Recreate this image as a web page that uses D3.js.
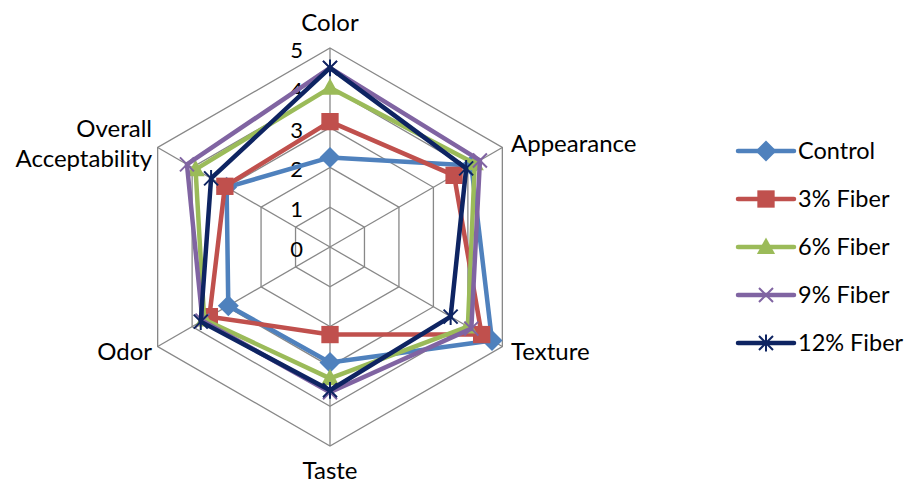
<!DOCTYPE html>
<html>
<head>
<meta charset="utf-8">
<script src="https://cdn.jsdelivr.net/npm/d3@7"></script>
<style>
  html, body { margin: 0; padding: 0; background: #ffffff; }
  svg { display: block; font-family: Lato, "Open Sans", sans-serif; }
</style>
</head>
<body>
<svg id="chart" width="908" height="486"></svg>
<script>
// Sensory attributes (radar axes, clockwise from the top)
const attributes = ["Color", "Appearance", "Texture", "Taste", "Odor", "Overall Acceptability"];

// Mean sensory scores per formulation
const control  = [2.25, 4.10, 4.70, 2.90, 2.95, 3.00];
const fiber3   = [3.15, 3.60, 4.40, 2.20, 3.50, 3.05];
const fiber6   = [4.00, 4.20, 4.00, 3.30, 3.65, 3.90];
const fiber9   = [4.50, 4.35, 4.10, 3.65, 3.70, 4.15];
const fiber12  = [4.50, 3.95, 3.50, 3.60, 3.75, 3.45];

const seriesNames = ["Control", "3% Fiber", "6% Fiber", "9% Fiber", "12% Fiber"];
const radialTicks = [0, 1, 2, 3, 4, 5];

const seriesColors = ["#4F81BD", "#C0504D", "#9BBB59", "#8064A2", "#0E2462"];
const seriesValues = [control, fiber3, fiber6, fiber9, fiber12];

const svg = d3.select("#chart");
svg.append("rect").attr("width", 908).attr("height", 486).attr("fill", "#ffffff");

const cx = 330, cy = 247, R = 199;

const r = d3.scaleLinear().domain([0, 5]).range([0, R]);
const angle = d3.scaleLinear().domain([0, attributes.length]).range([0, 2 * Math.PI]);

const toXY = (i, v) => [Math.sin(angle(i)) * r(v), -Math.cos(angle(i)) * r(v)];

const g = svg.append("g").attr("transform", `translate(${cx},${cy})`);

// Grid: hexagonal rings and spokes
const ringLine = d3.lineRadial()
  .angle((d, i) => angle(i))
  .radius(d => r(d))
  .curve(d3.curveLinearClosed);

g.append("g").selectAll("path")
  .data(radialTicks.filter(t => t > 0))
  .join("path")
  .attr("d", t => ringLine(attributes.map(() => t)))
  .attr("fill", "none")
  .attr("stroke", "#888888")
  .attr("stroke-width", 1.3);

g.append("g").selectAll("line")
  .data(attributes)
  .join("line")
  .attr("x1", 0).attr("y1", 0)
  .attr("x2", (d, i) => toXY(i, 5)[0])
  .attr("y2", (d, i) => toXY(i, 5)[1])
  .attr("stroke", "#888888")
  .attr("stroke-width", 1.3);

// Radial tick labels
g.append("g").selectAll("text")
  .data(radialTicks)
  .join("text")
  .attr("x", -27)
  .attr("y", t => -r(t) + 2)
  .attr("dy", "0.36em")
  .attr("text-anchor", "end")
  .attr("font-size", 22)
  .attr("fill", "#000")
  .text(t => t);

// Axis labels
const labelPos = [
  { x: 0, y: -225, anchor: "middle" },
  { x: 181, y: -104, anchor: "start" },
  { x: 181, y: 104, anchor: "start" },
  { x: 0, y: 223, anchor: "middle" },
  { x: -178, y: 104, anchor: "end" },
  { x: -178, y: -104, anchor: "end" }
];
const labelGroup = g.append("g");
attributes.forEach((name, i) => {
  const p = labelPos[i];
  const words = name === "Overall Acceptability" ? ["Overall", "Acceptability"] : [name];
  const t = labelGroup.append("text")
    .attr("text-anchor", p.anchor)
    .attr("font-size", 24)
    .attr("fill", "#000");
  words.forEach((w, k) => {
    t.append("tspan")
      .attr("x", p.x)
      .attr("y", p.y + (k - (words.length - 1) / 2) * 30)
      .attr("dy", "0.36em")
      .text(w);
  });
});

// Marker shapes
const markerTypes = [
  { draw(ctx, s) { const h = Math.sqrt(s) * 0.75; ctx.moveTo(0, -h); ctx.lineTo(h, 0); ctx.lineTo(0, h); ctx.lineTo(-h, 0); ctx.closePath(); } },
  { draw(ctx, s) { const h = Math.sqrt(s) / 2; ctx.moveTo(-h, -h); ctx.lineTo(h, -h); ctx.lineTo(h, h); ctx.lineTo(-h, h); ctx.closePath(); } },
  { draw(ctx, s) { const h = Math.sqrt(s) / 2; ctx.moveTo(0, -h * 1.1); ctx.lineTo(h * 1.05, h * 0.8); ctx.lineTo(-h * 1.05, h * 0.8); ctx.closePath(); } },
  { draw(ctx, s) { const h = Math.sqrt(s) / 2; ctx.moveTo(-h, -h); ctx.lineTo(h, h); ctx.moveTo(-h, h); ctx.lineTo(h, -h); } },
  { draw(ctx, s) { const h = Math.sqrt(s) / 2; ctx.moveTo(-h, -h); ctx.lineTo(h, h); ctx.moveTo(-h, h); ctx.lineTo(h, -h); ctx.moveTo(0, -h * 1.2); ctx.lineTo(0, h * 1.2); } }
];
const markerSizes = [196, 300, 300, 196, 196];
const markerFilled = [true, true, true, false, false];

function drawMarker(sel, k) {
  const path = d3.symbol().type(markerTypes[k]).size(markerSizes[k])();
  sel.append("path")
    .attr("d", path)
    .attr("fill", markerFilled[k] ? seriesColors[k] : "none")
    .attr("stroke", seriesColors[k])
    .attr("stroke-width", markerFilled[k] ? 0 : 2);
}

// Series polygons with markers
const seriesLine = d3.lineRadial()
  .angle((d, i) => angle(i))
  .radius(d => r(d))
  .curve(d3.curveLinearClosed);

seriesValues.forEach((vals, k) => {
  const sg = g.append("g");
  sg.append("path")
    .attr("d", seriesLine(vals))
    .attr("fill", "none")
    .attr("stroke", seriesColors[k])
    .attr("stroke-width", 4.5)
    .attr("stroke-linejoin", "round");
  vals.forEach((v, i) => {
    const [x, y] = toXY(i, v);
    const m = sg.append("g").attr("transform", `translate(${x},${y})`);
    drawMarker(m, k);
  });
});

// Legend
const legend = svg.append("g").attr("transform", "translate(738,151)");
seriesNames.forEach((name, k) => {
  const item = legend.append("g").attr("transform", `translate(0,${k * 48})`);
  item.append("line")
    .attr("x1", 0).attr("x2", 56)
    .attr("y1", 0).attr("y2", 0)
    .attr("stroke", seriesColors[k])
    .attr("stroke-width", 4.5)
    .attr("stroke-linecap", "round");
  const m = item.append("g").attr("transform", "translate(28,0)");
  drawMarker(m, k);
  item.append("text")
    .attr("x", 60)
    .attr("y", 0)
    .attr("dy", "0.36em")
    .attr("font-size", 23.5)
    .attr("fill", "#000")
    .text(name);
});
</script>
</body>
</html>
